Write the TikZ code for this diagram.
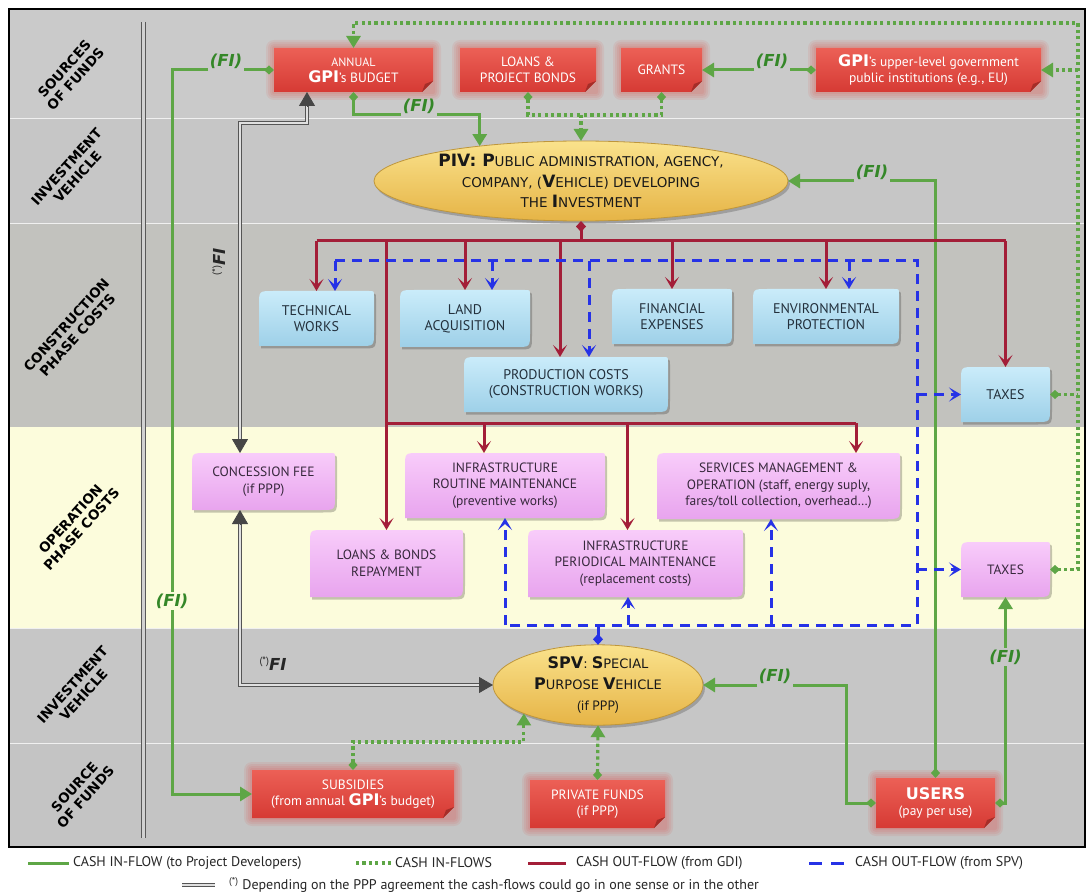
\documentclass[tikz,border=0pt]{standalone}
\usepackage{fontspec}
\setmainfont{PT Sans}
\newfontfamily\dv{DejaVu Sans}
\usetikzlibrary{arrows.meta,calc,shapes.geometric}
\pgfdeclarelayer{bands}
\pgfdeclarelayer{boxes}
\pgfsetlayers{bands,boxes,main}
\definecolor{gc}{RGB}{94,166,70}
\definecolor{gtext}{RGB}{52,135,40}
\definecolor{rc}{RGB}{163,30,56}
\definecolor{bc}{RGB}{38,50,230}
\definecolor{dg}{RGB}{85,85,85}
\definecolor{tipg}{RGB}{70,70,70}
\definecolor{bandA}{RGB}{202,202,202}
\definecolor{bandB}{RGB}{198,198,198}
\definecolor{bandC}{RGB}{194,194,190}
\definecolor{bandD}{RGB}{252,252,220}
\definecolor{bandE}{RGB}{198,198,198}
\definecolor{bandF}{RGB}{196,196,196}
\definecolor{rtop}{RGB}{236,96,86}
\definecolor{rbot}{RGB}{214,58,52}
\definecolor{rfold}{RGB}{165,45,40}
\definecolor{rglow}{RGB}{225,60,50}
\definecolor{btop}{RGB}{202,236,250}
\definecolor{bbot}{RGB}{158,208,232}
\definecolor{ptop}{RGB}{248,204,250}
\definecolor{pbot}{RGB}{232,164,238}
\definecolor{etop}{RGB}{250,226,140}
\definecolor{ebot}{RGB}{230,180,70}
\definecolor{eline}{RGB}{190,150,60}
\definecolor{btext}{RGB}{35,48,60}
\definecolor{ptext}{RGB}{55,40,60}
\newcommand\fsz[2]{\fontsize{#1}{#2}\selectfont}
\newcommand\leafpath[3]{([shift={(#2,#3)}]#1.south west) -- ([shift={(#2,#3-14pt)}]#1.north west) .. controls ([shift={(#2,#3)}]#1.north west) .. ([shift={(#2+14pt,#3)}]#1.north west) -- ([shift={(#2-5pt,#3)}]#1.north east) .. controls ([shift={(#2,#3)}]#1.north east) .. ([shift={(#2,#3-5pt)}]#1.north east) -- ([shift={(#2,#3+14pt)}]#1.south east) .. controls ([shift={(#2,#3)}]#1.south east) .. ([shift={(#2-14pt,#3)}]#1.south east) -- cycle}
\newcommand\leafshape[3]{%
 \fill[black,opacity=.22] \leafpath{#1}{2pt}{-2.5pt};
 \shade[top color=#2,bottom color=#3] \leafpath{#1}{0pt}{0pt};}
\newcommand\redshape[1]{%
 \foreach \g in {8,6,4,2} {\fill[rglow,opacity=.09,rounded corners=\g pt] ([shift={(-\g pt,\g pt)}]#1.north west) rectangle ([shift={(\g pt,-\g pt)}]#1.south east);}
 \shade[top color=rtop,bottom color=rbot] (#1.north west) -- (#1.north east) -- ([yshift=11pt]#1.south east) -- ([xshift=-11pt]#1.south east) -- (#1.south west) -- cycle;
 \fill[rfold] ([yshift=11pt]#1.south east) -- ([xshift=-11pt]#1.south east) -- ([shift={(-8pt,8pt)}]#1.south east) -- cycle;}
\tikzset{
 gA/.tip={Triangle[length=12pt,width=14pt]},
 gD/.tip={Diamond[length=10pt,width=9pt]},
 rA/.tip={Stealth[length=12pt,width=14pt,inset=6pt]},
 rD/.tip={Diamond[length=11pt,width=10pt]},
 kA/.tip={Triangle[length=14pt,width=16pt]},
 gline/.style={draw=gc,line width=3pt},
 gdot/.style={draw=gc,line width=3.2pt,dash pattern=on 3.2pt off 3.2pt},
 rline/.style={draw=rc,line width=3pt},
 bline/.style={draw=bc,line width=3pt,dash pattern=on 10pt off 7pt},
 gdbl/.style={draw=dg,double=white!88!black,double distance=2.4pt,line width=1.1pt},
 ktip/.style={draw=tipg,fill=tipg,line width=0.8pt,-{kA}},
 rbox/.style={inner sep=0pt,outer sep=0pt,align=center,text=white,font=\fsz{13.5}{16}},
 bbox/.style={inner sep=0pt,outer sep=0pt,align=center,text=btext,font=\fsz{14}{16}},
 pbox/.style={inner sep=0pt,outer sep=0pt,align=center,text=ptext,font=\fsz{13.5}{16.5}},
 ell/.style={ellipse,draw=eline,line width=0.8pt,top color=etop,bottom color=ebot,inner sep=0pt,outer sep=0pt,align=center,text=black!90},
 fi/.style={text=gtext,font=\dv\bfseries\itshape\fsz{16.5}{18},inner sep=1.5pt},
 sfi/.style={text=black!85,font=\dv\bfseries\itshape\fsz{16.5}{18},inner sep=1pt},
 side/.style={font=\dv\bfseries\fsz{13.5}{15},align=center,text=black,rotate=48},
 leg/.style={anchor=west,font=\fsz{14}{16},text=black!85,inner sep=0pt},
}
\begin{document}
\begin{tikzpicture}[x=1pt,y=-1pt]
\useasboundingbox (0,0) rectangle (1088,896);
\begin{pgfonlayer}{bands}
 \fill[white] (0,0) rectangle (1088,896);
 \fill[bandA] (9,9) rectangle (1085,118);
 \fill[bandB] (9,118) rectangle (1085,223);
 \fill[bandC] (9,223) rectangle (1085,427);
 \fill[bandD] (9,427) rectangle (1085,628);
 \fill[bandE] (9,628) rectangle (1085,743);
 \fill[bandF] (9,743) rectangle (1085,847);
 \draw[white!88!gray,line width=0.8pt] (9,118) -- (1085,118) (9,223) -- (1085,223) (9,628) -- (1085,628) (9,743) -- (1085,743);
 \draw[black,line width=1.3pt] (9,9) rectangle (1085,847);
 \draw[draw=gray!70!black,double=white!82!black,double distance=3pt,line width=1pt] (143,22) -- (143,838);
\end{pgfonlayer}

% side labels
\node[side] (s1) at (70,74) {SOURCES\\OF FUNDS};
\node[side] (s2) at (72,172) {INVESTMENT\\VEHICLE};
\node[side] (s3) at (72,330) {CONSTRUCTION\\PHASE COSTS};
\node[side] (s4) at (76,524) {OPERATION\\PHASE COSTS};
\node[side] (s5) at (78,690) {INVESTMENT\\VEHICLE};
\node[side] (s6) at (80,792) {SOURCE\\OF FUNDS};

% red boxes
\node[rbox,minimum width=159pt,minimum height=44pt] (annual) at (353.5,70) {{\fsz{12}{17}ANNUAL}\\{\dv\bfseries\fsz{16}{17}GPI}'s BUDGET};
\node[rbox,minimum width=136pt,minimum height=44pt] (loans) at (528,70) {LOANS \&\\PROJECT BONDS};
\node[rbox,minimum width=81pt,minimum height=44pt] (grants) at (661.5,70) {GRANTS};
\node[rbox,minimum width=225pt,minimum height=44pt] (gpiup) at (928.5,70) {{\dv\bfseries\fsz{16}{17}GPI}'s upper-level government\\public institutions (e.g., EU)};
\node[rbox,minimum width=202pt,minimum height=48pt] (subsidies) at (353,794) {SUBSIDIES\\(from annual {\dv\bfseries\fsz{16}{17}GPI}'s budget)};
\node[rbox,minimum width=135pt,minimum height=48pt] (private) at (597.5,804) {PRIVATE FUNDS\\(if PPP)};
\node[rbox,minimum width=119pt,minimum height=50pt] (users) at (935.5,803) {{\dv\bfseries\fsz{16}{19}USERS}\\(pay per use)};

% blue boxes
\node[bbox,minimum width=115pt,minimum height=55pt] (tech) at (316.5,318.5) {TECHNICAL\\WORKS};
\node[bbox,minimum width=130pt,minimum height=57pt] (land) at (465,318.5) {LAND\\ACQUISITION};
\node[bbox,minimum width=120pt,minimum height=55pt] (fin) at (672,316.5) {FINANCIAL\\EXPENSES};
\node[bbox,minimum width=146pt,minimum height=55pt] (env) at (826,316.5) {ENVIRONMENTAL\\PROTECTION};
\node[bbox,minimum width=204pt,minimum height=55pt] (prod) at (566,384.5) {PRODUCTION COSTS\\(CONSTRUCTION WORKS)};
\node[bbox,minimum width=89pt,minimum height=55pt] (taxes1) at (1005.5,394.5) {TAXES};

% pink boxes
\node[pbox,minimum width=143pt,minimum height=57pt] (conc) at (263.5,481.5) {CONCESSION FEE\\(if PPP)};
\node[pbox,minimum width=200pt,minimum height=65pt] (routine) at (505,485.5) {INFRASTRUCTURE\\ROUTINE MAINTENANCE\\(preventive works)};
\node[pbox,minimum width=243pt,minimum height=66pt] (services) at (778.5,486) {SERVICES MANAGEMENT \&\\OPERATION (staff, energy suply,\\fares/toll collection, overhead…)};
\node[pbox,minimum width=153pt,minimum height=67pt] (loansrep) at (386.5,563.5) {LOANS \& BONDS\\REPAYMENT};
\node[pbox,minimum width=215pt,minimum height=67pt] (periodic) at (635.5,563.5) {INFRASTRUCTURE\\PERIODICAL MAINTENANCE\\(replacement costs)};
\node[pbox,minimum width=89pt,minimum height=55pt] (taxes2) at (1005.5,569.5) {TAXES};

% ellipses
\node[ell,minimum width=414pt,minimum height=80pt,font=\dv\fsz{13.5}{20.5}] (piv) at (581,181) {{\bfseries\fsz{17}{20.5}PIV: P}UBLIC ADMINISTRATION, AGENCY,\\COMPANY, ({\bfseries\fsz{17}{20.5}V}EHICLE) DEVELOPING\\THE {\bfseries\fsz{17}{20.5}I}NVESTMENT};
\node[ell,minimum width=210pt,minimum height=80pt,font=\dv\fsz{13}{21}] (spv) at (598,685) {{\bfseries\fsz{16}{21}SPV}: {\bfseries\fsz{16}{21}S}PECIAL\\{\bfseries\fsz{16}{21}P}URPOSE {\bfseries\fsz{16}{21}V}EHICLE\\{\rmfamily\fsz{13.5}{20}(if PPP)}};

\begin{pgfonlayer}{boxes}
 \foreach \n in {annual,loans,grants,gpiup,subsidies,private,users} {\redshape{\n}}
 \foreach \n in {tech,land,fin,env,prod,taxes1} {\leafshape{\n}{btop}{bbot}}
 \foreach \n in {conc,routine,services,loansrep,periodic,taxes2} {\leafshape{\n}{ptop}{pbot}}
 \fill[black,opacity=.2] ([shift={(2pt,-3pt)}]piv.center) ellipse [x radius=207pt,y radius=40pt];
 \fill[black,opacity=.2] ([shift={(2pt,-3pt)}]spv.center) ellipse [x radius=105pt,y radius=40pt];
\end{pgfonlayer}

% (FI) labels
\node[fi,anchor=south] (fiA) at (226,70) {(FI)};
\node[fi] (fiB) at (172,601) {(FI)};
\node[fi,anchor=south] (fiG) at (419,115) {(FI)};
\node[fi,anchor=south] (fiF) at (772,70) {(FI)};
\node[fi,anchor=south] (fiC) at (872,181) {(FI)};
\node[fi,anchor=south] (fiD) at (775,685) {(FI)};
\node[fi] (fiE) at (1005.5,657) {(FI)};
\node[sfi,rotate=90] (sfi1) at (219,262) {{\normalfont\fsz{10.5}{10}\raisebox{6pt}{(*)}}FI};
\node[sfi] (sfi2) at (273,664) {{\normalfont\fsz{10.5}{10}\raisebox{6pt}{(*)}}FI};

% green solid flows
\draw[gline,{gD}-] (annual.west) -- (fiA.south east);
\draw[gline] (fiA.south west) -| (fiB.north);
\draw[gline,-{gA}] (fiB.south) |- (subsidies.west);
\draw[gline,{gD}-] (annual.south) |- (fiG.south west);
\draw[gline,-{gA}] (fiG.south east) -| (piv.161);
\draw[gline,{gD}-] (gpiup.west) -- (fiF.south east);
\draw[gline,-{gA}] (fiF.south west) -- (grants.east);
\draw[gline,{gD}-] (users.north) |- (fiC.south east);
\draw[gline,-{gA}] (fiC.south west) -- (piv.east);
\draw[gline,{gD}-] (users.west) -- ++(-30,0) |- (fiD.south east);
\draw[gline,-{gA}] (fiD.south west) -- (spv.east);
\draw[gline,{gD}-] (users.east) -| (fiE.south);
\draw[gline,-{gA}] (fiE.north) -- (taxes2.south);

% green dotted flows
\coordinate (rtop) at (1078,23);
\coordinate (jA) at (581,115);
\draw[gdot,{gD}-{gA}] (taxes2.east) -| (rtop) -| (annual.north);
\draw[gdot,{gD}-] (taxes1.east) -- (taxes1.east -| rtop);
\draw[gdot,-{gA}] (gpiup.east -| rtop) -- (gpiup.east);
\draw[gdot,{gD}-] (loans.south) |- (jA);
\draw[gdot,{gD}-] (grants.south) |- (jA);
\draw[gdot,-{gA}] (jA) -- (piv.north);
\draw[gdot,{gD}-{gA}] (subsidies.north) -- ++(0,-28) -| (spv.201.5);
\draw[gdot,{gD}-{gA}] (private.north) -- (spv.south);

% red out-flows (GDI)
\coordinate (rJ) at (581,241);
\coordinate (rK) at (386.5,423);
\coordinate (prodR) at ([xshift=-6pt]prod.north);
\coordinate (routR) at ([xshift=-21pt]routine.north);
\coordinate (perR) at ([xshift=-8pt]periodic.north);
\coordinate (servR) at ([xshift=-44pt]services.north east);
\draw[rline,{rD}-] (piv.south) -- (rJ);
\draw[rline] (tech.north |- rJ) -- (taxes1.north |- rJ);
\foreach \t in {tech.north,land.north,fin.north,env.north,taxes1.north,prodR}
  \draw[rline,-{rA}] (\t |- rJ) -- (\t);
\draw[rline,-{rA}] (loansrep.north |- rJ) -- (loansrep.north);
\draw[rline] (rK) -- (servR |- rK);
\foreach \t in {routR,perR,servR}
  \draw[rline,-{rA}] (\t |- rK) -- (\t);

% blue out-flows (SPV)
\coordinate (bTL) at (335,261);
\coordinate (bTR) at (917,261);
\coordinate (bBR) at (917,625);
\coordinate (bBL) at (505,625);
\coordinate (techB) at ([xshift=18.5pt]tech.north);
\coordinate (landB) at ([xshift=27pt]land.north);
\coordinate (prodB) at ([xshift=23pt]prod.north);
\coordinate (envB) at ([xshift=23pt]env.north);
\coordinate (routB) at (routine.south);
\coordinate (perB) at ([xshift=-7.5pt]periodic.south);
\coordinate (servB) at ([xshift=-7.5pt]services.south);
\draw[bline] (bTL) -- (bTR) -- (bBR) -- (bBL);
\foreach \t in {techB,landB,prodB,envB}
  \draw[bline,-{rA}] (\t |- bTL) -- (\t);
\foreach \t in {routB,perB,servB}
  \draw[bline,-{rA}] (\t |- bBL) -- (\t);
\draw[bline,-{rA}] (bTR |- taxes1.west) -- (taxes1.west);
\draw[bline,-{rA}] (bTR |- taxes2.west) -- (taxes2.west);
\draw[draw=bc,line width=3pt,{rD}-] (spv.north) -- (spv.north |- bBL);

% grey two-way flows
\coordinate (annB) at ([xshift=-46.5pt]annual.south);
\coordinate (concT) at ([xshift=-23.5pt]conc.north);
\coordinate (concB) at ([xshift=-23.5pt]conc.south);
\draw[gdbl,shorten <=12pt,shorten >=12pt] (annB) -- ++(0,31) -| (concT);
\draw[gdbl,shorten <=12pt,shorten >=12pt] (concB) |- (spv.west);
\draw[ktip] ([yshift=-14pt]annB) -- (annB);
\draw[ktip] ([yshift=14pt]concT) -- (concT);
\draw[ktip] ([yshift=-14pt]concB) -- (concB);
\draw[ktip] ([xshift=-14pt]spv.west) -- (spv.west);

% legend
\coordinate (lg1a) at (28,863); \coordinate (lg1b) at (69,863);
\coordinate (lg2a) at (356,863); \coordinate (lg2b) at (392,863);
\coordinate (lg3a) at (528,863); \coordinate (lg3b) at (566,863);
\coordinate (lg4a) at (809,863); \coordinate (lg4b) at (845,863);
\coordinate (lg5a) at (182,885); \coordinate (lg5b) at (215,885);
\draw[gline] (lg1a) -- (lg1b);
\draw[gdot] (lg2a) -- (lg2b);
\draw[rline] (lg3a) -- (lg3b);
\draw[draw=bc,line width=3pt,dash pattern=on 13pt off 9pt] (lg4a) -- (lg4b);
\draw[gdbl] (lg5a) -- (lg5b);
\node[leg] (l1) at (73,863) {CASH IN-FLOW (to Project Developers)};
\node[leg] (l2) at (395,863) {CASH IN-FLOWS};
\node[leg] (l3) at (576,863) {CASH OUT-FLOW (from GDI)};
\node[leg] (l4) at (855,863) {CASH OUT-FLOW (from SPV)};
\node[leg] (l5) at (229,885) {\textsuperscript{(*)} Depending on the PPP agreement the cash-flows could go in one sense or in the other};
\end{tikzpicture}
\end{document}
